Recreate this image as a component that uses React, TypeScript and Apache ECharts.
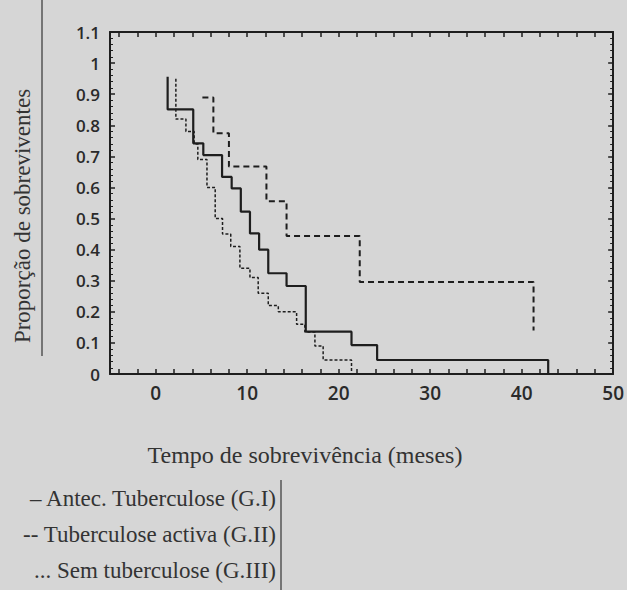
import React, { useEffect, useRef } from "react";
import * as echarts from "echarts";

// Kaplan-Meier curves: [time (months), survival proportion]
const groupI: [number, number][] = [
  [1.3, 0.956], [1.3, 0.851], [4.1, 0.742], [5.2, 0.704], [7.25, 0.634], [8.3, 0.597],
  [9.3, 0.522], [10.3, 0.452], [11.3, 0.4], [12.3, 0.324], [14.3, 0.283], [16.4, 0.136],
  [21.4, 0.093], [24.2, 0.045], [42.9, 0],
];
const groupII: [number, number][] = [
  [5.1, 0.889], [6.3, 0.774], [8.0, 0.667], [12.1, 0.556], [14.3, 0.444], [22.3, 0.296], [41.3, 0.14],
];
const groupIII: [number, number][] = [
  [2.2, 0.95], [2.2, 0.82], [3.3, 0.78], [4.2, 0.74], [4.6, 0.69], [5.6, 0.6], [6.5, 0.5],
  [7.3, 0.45], [8.2, 0.41], [9.2, 0.34], [10.3, 0.31], [11.2, 0.26], [12.3, 0.22], [13.4, 0.2],
  [15.4, 0.16], [16.3, 0.135], [17.4, 0.09], [18.3, 0.045], [21.4, 0],
];
const xLabels = [0, 10, 20, 30, 40, 50];
const xTicks = [-4, -2, 0, 2, 4, 6, 8, 10, 12, 14, 16, 18, 20, 22, 24, 26, 28, 30, 32, 34, 36, 38, 40, 42, 44, 46, 48, 50];
const legendLines = [
  "– Antec. Tuberculose (G.I)",
  "-- Tuberculose activa (G.II)",
  "... Sem tuberculose (G.III)",
];
const xTitle = "Tempo de sobrevivência (meses)";
const yTitle = "Proporção de sobreviventes";

export default function App() {
  const ref = useRef<HTMLDivElement>(null);
  useEffect(() => {
    if (!ref.current) return;
    const chart = echarts.init(ref.current, undefined, { renderer: "svg" });
    const ink = "#1e1e1e";
    const axisLine = { show: true, onZero: false, lineStyle: { color: ink, width: 2 } };
    const xTick = { show: true, inside: true, length: 5, customValues: xTicks, lineStyle: { color: ink, width: 1.5 } };
    const yTick = { show: true, inside: true, length: 5, lineStyle: { color: ink, width: 1.5 } };
    const yMinor = { show: true, splitNumber: 5, length: 3, lineStyle: { color: ink, width: 1 } };
    const serif = "'Liberation Serif', 'Times New Roman', serif";
    const sans = "'Open Sans', sans-serif";
    chart.setOption({
      animation: false,
      backgroundColor: "#d6d6d6",
      grid: { left: 110, right: 12, top: 32, bottom: 216 },
      xAxis: [
        {
          type: "value", min: -5, max: 50, position: "bottom",
          axisLine, axisTick: xTick, splitLine: { show: false },
          axisLabel: { customValues: xLabels, color: "#2a2a2a", fontSize: 19, fontWeight: 600, fontFamily: sans, margin: 9 },
        },
        {
          type: "value", min: -5, max: 50, position: "top",
          axisLine, axisTick: xTick, splitLine: { show: false }, axisLabel: { show: false },
        },
      ],
      yAxis: [
        {
          type: "value", min: 0, max: 1.1, interval: 0.1, position: "left",
          axisLine, axisTick: yTick, minorTick: yMinor, splitLine: { show: false },
          axisLabel: {
            color: "#2a2a2a", fontSize: 17, fontWeight: 600, fontFamily: sans, margin: 10,
            formatter: (v: number) => String(Math.round(v * 10) / 10),
          },
        },
        {
          type: "value", min: 0, max: 1.1, interval: 0.1, position: "right",
          axisLine, axisTick: yTick, minorTick: yMinor, splitLine: { show: false }, axisLabel: { show: false },
        },
      ],
      series: [
        {
          type: "line", step: "end", data: groupI, showSymbol: false, symbol: "none",
          lineStyle: { color: ink, width: 2.2, type: "solid" },
        },
        {
          type: "line", step: "end", data: groupII, showSymbol: false, symbol: "none",
          lineStyle: { color: ink, width: 2, type: [6, 4] },
        },
        {
          type: "line", step: "end", data: groupIII, showSymbol: false, symbol: "none",
          lineStyle: { color: ink, width: 1.5, type: [3, 2] },
        },
      ],
      graphic: [
        { type: "line", shape: { x1: 42, y1: 0, x2: 42, y2: 356 }, style: { stroke: "#555", lineWidth: 1.5 } },
        { type: "line", shape: { x1: 281, y1: 480, x2: 281, y2: 590 }, style: { stroke: "#555", lineWidth: 1.5 } },
        {
          type: "text", x: 22, y: 216, rotation: Math.PI / 2,
          style: { text: yTitle, fill: "#333", font: `23px ${serif}`, textAlign: "center", textVerticalAlign: "middle" },
        },
        {
          type: "text", x: 305, y: 455,
          style: { text: xTitle, fill: "#333", font: `24px ${serif}`, textAlign: "center", textVerticalAlign: "middle" },
        },
        ...legendLines.map((t, i) => ({
          type: "text", x: 276, y: 498 + i * 36,
          style: { text: t, fill: "#333", font: `23px ${serif}`, textAlign: "right", textVerticalAlign: "middle" },
        })),
      ],
    });
    return () => chart.dispose();
  }, []);
  return <div ref={ref} style={{ position: "fixed", left: 0, top: 0, width: 627, height: 590 }} />;
}
